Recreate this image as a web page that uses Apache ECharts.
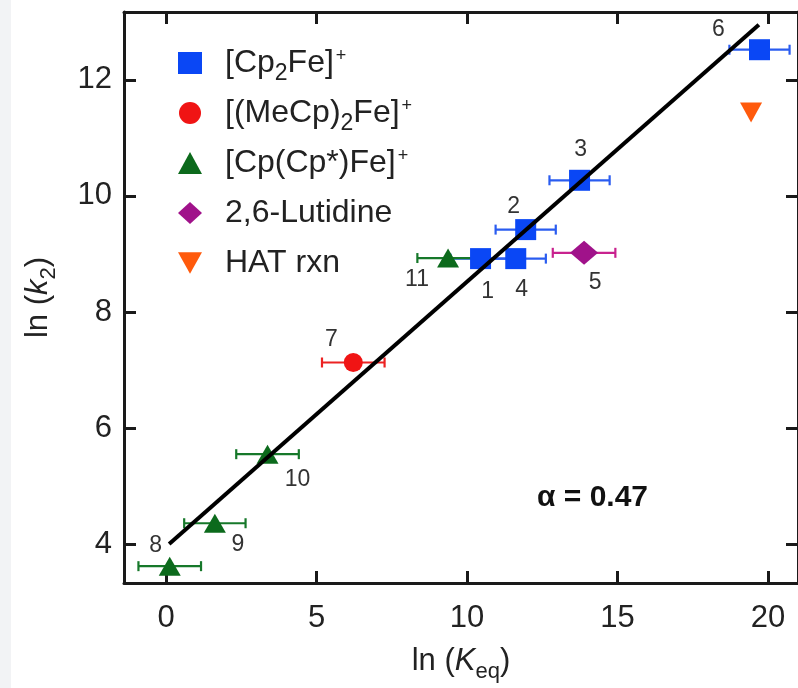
<!DOCTYPE html>
<html>
<head>
<meta charset="utf-8">
<script src="https://cdn.jsdelivr.net/npm/echarts@6/dist/echarts.min.js"></script>
<style>
  html, body { margin: 0; background: #fff; }
  #chart { width: 798px; height: 688px; }
</style>
</head>
<body>
<div id="chart"></div>
<script>
// ln(k2) vs ln(Keq). Each group: x, y, horizontal error (half width), point number.
const cp2feX = [10.45, 11.95, 13.74, 11.62, 19.72];
const cp2feY = [8.92, 9.42, 10.27, 8.92, 12.52];
const cp2feErr = [1.0, 1.0, 1.0, 1.0, 1.0];
const cp2feIds = ["1", "2", "3", "4", "6"];

const mecpX = [6.22];
const mecpY = [7.13];
const mecpErr = [1.04];
const mecpIds = ["7"];

const cpstarX = [0.12, 1.62, 3.37, 9.37];
const cpstarY = [3.62, 4.36, 5.55, 8.93];
const cpstarErr = [1.04, 1.02, 1.04, 1.02];
const cpstarIds = ["8", "9", "10", "11"];

const lutX = [13.89];
const lutY = [9.02];
const lutErr = [1.04];
const lutIds = ["5"];

const hatX = [19.44];
const hatY = [11.44];

// linear fit, slope 0.47 in the paper
const fitX = [0.1, 19.7];
const fitY = [4.0, 12.95];

const xTicks = [0, 5, 10, 15, 20];
const yTicks = [4, 6, 8, 10, 12];

// where each point number sits relative to its marker (px)
const labelOffset = {
  "1": [7, 33], "2": [-12, -23], "3": [1, -31], "4": [6, 31], "5": [11, 30], "6": [-41, -20],
  "7": [-22, -23], "8": [-14, -21], "9": [23, 21], "10": [30, 25], "11": [-31, 22],
};

const FONT = "Liberation Sans";
const INK = "#1a1a1a";
const DOWN_TRI = "path://M0,0L10,0L5,9Z";
const pairs = (xs, ys) => xs.map((x, i) => [x, ys[i]]);

function errSeries(name, xs, ys, errs, color) {
  return {
    type: "custom", name: name + " err", silent: true, z: 2,
    data: xs.map((x, i) => [x, ys[i], errs[i]]),
    encode: { x: 0, y: 1 },
    renderItem: (params, api) => {
      const x = api.value(0), y = api.value(1), e = api.value(2);
      const a = api.coord([x - e, y]), b = api.coord([x + e, y]);
      const h = 5, st = { stroke: color, lineWidth: 2.2 };
      return {
        type: "group",
        children: [
          { type: "line", shape: { x1: a[0], y1: a[1], x2: b[0], y2: b[1] }, style: st },
          { type: "line", shape: { x1: a[0], y1: a[1] - h, x2: a[0], y2: a[1] + h }, style: st },
          { type: "line", shape: { x1: b[0], y1: b[1] - h, x2: b[0], y2: b[1] + h }, style: st },
        ],
      };
    },
  };
}

function pointSeries(name, xs, ys, ids, color, symbol, size) {
  return {
    type: "scatter", name, z: 3, symbol, symbolSize: size,
    itemStyle: { color, opacity: 1 },
    data: xs.map((x, i) => ({
      value: [x, ys[i]],
      label: ids ? { show: true, position: "inside", offset: labelOffset[ids[i]], formatter: ids[i] } : { show: false },
    })),
    label: { fontFamily: FONT, fontSize: 23, color: "#333" },
    emphasis: { disabled: true },
  };
}

const legendText = {
  Cp2Fe: "{sp| }[Cp{sub|2}Fe]{sup|+}",
  MeCp2Fe: "{sp| }[(MeCp){sub|2}Fe]{sup|+}",
  CpCpStarFe: "{sp| }[Cp(Cp*)Fe]{sup|+}",
  Lutidine: "{sp| }2,6-Lutidine",
  HAT: "{sp| }HAT rxn",
};

const frameLine = { show: true, onZero: false, lineStyle: { color: INK, width: 3 } };
const tick = (vals) => ({ show: true, inside: true, length: 12, customValues: vals, lineStyle: { color: INK, width: 3 } });
const tickLabel = (vals, margin) => ({ customValues: vals, fontFamily: FONT, fontSize: 31, color: "#222", margin });
const nameRich = {
  t: { fontFamily: FONT, fontSize: 31, color: "#222", lineHeight: 32 },
  i: { fontFamily: FONT, fontSize: 31, fontStyle: "italic", color: "#222", lineHeight: 32 },
  s: { fontFamily: FONT, fontSize: 22, color: "#222", lineHeight: 44, verticalAlign: "bottom" },
};

const option = {
  animation: false,
  backgroundColor: "#fff",
  grid: { left: 124, top: 12, width: 676, height: 572 },
  graphic: [
    { type: "rect", left: 0, top: 0, shape: { width: 11, height: 688 }, style: { fill: "#f2f3f5" }, silent: true },
    { type: "text", left: 537, top: 483, style: { text: "α = 0.47", fontFamily: FONT, fontWeight: "bold", fontSize: 30, fill: "#111" } },
  ],
  legend: {
    orient: "vertical", left: 173, top: 36, itemWidth: 24, itemHeight: 22, itemGap: 6,
    data: ["Cp2Fe", "MeCp2Fe", "CpCpStarFe", "Lutidine", "HAT"],
    formatter: (n) => legendText[n],
    selectedMode: false,
    textStyle: {
      fontFamily: FONT, fontSize: 32, color: "#222", lineHeight: 44,
      rich: {
        sp: { width: 18 },
        sub: { fontFamily: FONT, fontSize: 23, lineHeight: 44, verticalAlign: "bottom", color: "#222" },
        sup: { fontFamily: FONT, fontSize: 18, lineHeight: 44, verticalAlign: "top", padding: [6, 0, 0, 2], color: "#222" },
      },
    },
  },
  xAxis: [
    {
      type: "value", min: -1.4, max: 21, position: "bottom",
      axisLine: frameLine, axisTick: tick(xTicks), axisLabel: tickLabel(xTicks, 20), splitLine: { show: false },
      name: "{t|ln (}{i|K}{s|eq}{t|)}", nameLocation: "middle", nameGap: 56,
      nameTextStyle: { rich: nameRich },
    },
    {
      type: "value", min: -1.4, max: 21, position: "top",
      axisLine: frameLine, axisTick: tick(xTicks), axisLabel: { show: false }, splitLine: { show: false },
    },
  ],
  yAxis: [
    {
      type: "value", min: 3.33, max: 13.17, position: "left",
      axisLine: frameLine, axisTick: tick(yTicks), axisLabel: tickLabel(yTicks, 12), splitLine: { show: false },
      name: "{t|ln (}{i|k}{s|2}{t|)}", nameLocation: "middle", nameGap: 64, nameRotate: 90,
      nameTextStyle: { rich: nameRich },
    },
    {
      type: "value", min: 3.33, max: 13.17, position: "right",
      axisLine: frameLine, axisTick: tick(yTicks), axisLabel: { show: false }, splitLine: { show: false },
    },
  ],
  series: [
    errSeries("Cp2Fe", cp2feX, cp2feY, cp2feErr, "#2a5cf0"),
    errSeries("MeCp2Fe", mecpX, mecpY, mecpErr, "#ec2222"),
    errSeries("CpCpStarFe", cpstarX, cpstarY, cpstarErr, "#16782a"),
    errSeries("Lutidine", lutX, lutY, lutErr, "#c8228e"),
    pointSeries("Cp2Fe", cp2feX, cp2feY, cp2feIds, "#0a47f5", "rect", 21),
    pointSeries("MeCp2Fe", mecpX, mecpY, mecpIds, "#f01414", "circle", 19),
    pointSeries("CpCpStarFe", cpstarX, cpstarY, cpstarIds, "#0c6a1c", "triangle", [22, 19]),
    pointSeries("Lutidine", lutX, lutY, lutIds, "#a0128a", "diamond", [28, 24]),
    pointSeries("HAT", hatX, hatY, null, "#ff5a0c", DOWN_TRI, [22, 20]),
    {
      type: "line", name: "fit", z: 5, silent: true, symbol: "none",
      data: pairs(fitX, fitY),
      lineStyle: { color: "#000", width: 4 },
    },
  ],
};

const chart = echarts.init(document.getElementById("chart"), null, { renderer: "canvas" });
chart.setOption(option);
</script>
</body>
</html>
